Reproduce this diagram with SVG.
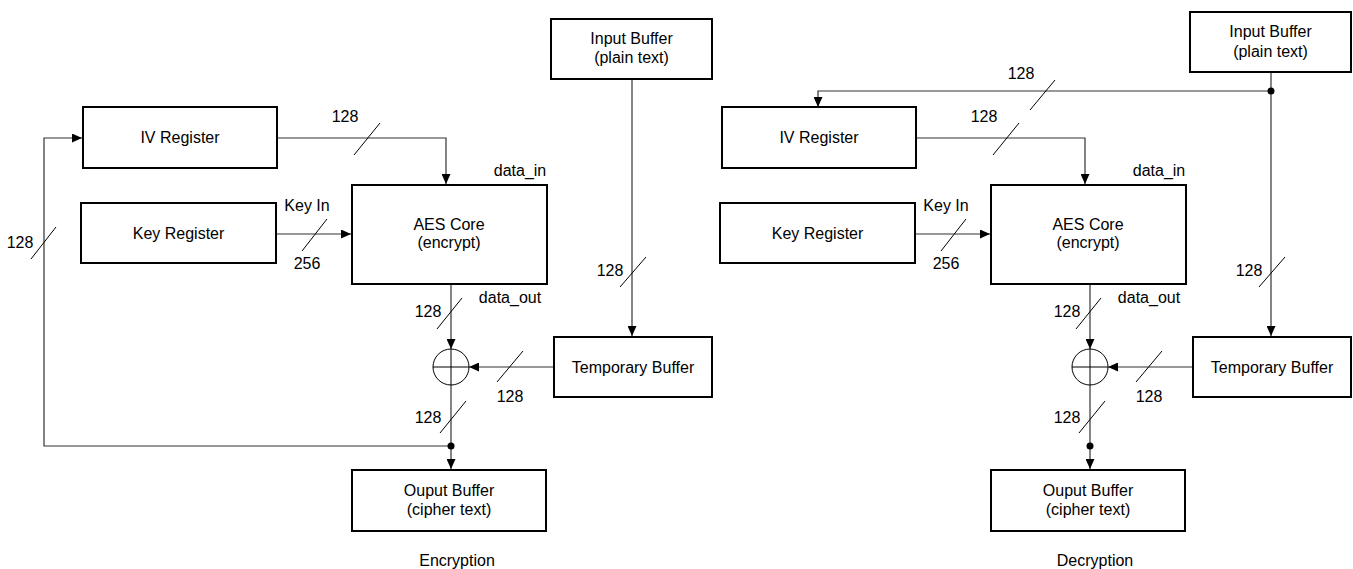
<svg xmlns="http://www.w3.org/2000/svg" width="1353" height="569" viewBox="0 0 1353 569">
<style>
text{font-family:"Liberation Sans",Arial,sans-serif;font-size:16px;fill:#000;text-anchor:middle}
.box{fill:#fff;stroke:#000;stroke-width:2}
.ln{fill:none;stroke:#333;stroke-width:1.2}
.sl{fill:none;stroke:#000;stroke-width:1}
.xor{fill:none;stroke:#000;stroke-width:1}
.dot{fill:#000}
</style>
<defs>
<marker id="arr" viewBox="0 0 10 9" refX="10" refY="4.5" markerWidth="10" markerHeight="9" orient="auto" markerUnits="userSpaceOnUse"><path d="M0,0 L10,4.5 L0,9 z" fill="#000"/></marker>
</defs>
<g id="connectors">
<path class="ln" d="M278,138 H446 V184" marker-end="url(#arr)"/>
<path class="ln" d="M277,234 H351" marker-end="url(#arr)"/>
<path class="ln" d="M451,285 V349" marker-end="url(#arr)"/>
<path class="ln" d="M553,367 H469" marker-end="url(#arr)"/>
<path class="ln" d="M451,385 V469" marker-end="url(#arr)"/>
<path class="ln" d="M451,446 H44 V138 H82" marker-end="url(#arr)"/>
<path class="ln" d="M632,80 V336" marker-end="url(#arr)"/>
<circle class="dot" cx="451" cy="446" r="3.5"/>
<path class="ln" d="M1271,73 V336" marker-end="url(#arr)"/>
<path class="ln" d="M1271,91 H818 V107" marker-end="url(#arr)"/>
<circle class="dot" cx="1271" cy="91" r="3.5"/>
<path class="ln" d="M917,138 H1085 V184" marker-end="url(#arr)"/>
<path class="ln" d="M916,234 H990" marker-end="url(#arr)"/>
<path class="ln" d="M1090,285 V349" marker-end="url(#arr)"/>
<path class="ln" d="M1192,367 H1108" marker-end="url(#arr)"/>
<path class="ln" d="M1090,385 V469" marker-end="url(#arr)"/>
<circle class="dot" cx="1090" cy="446" r="3.5"/>
<path class="sl" d="M354,155 L380,123 M302,251 L327,219 M31,259 L56,227 M437,329 L462,298 M440,433 L466,401 M497,382 L523,351 M620,287 L646,257"/>
<path class="sl" d="M1030,110 L1055,80 M993,155 L1019,123 M941,251 L966,219 M1076,329 L1101,298 M1079,433 L1105,401 M1136,382 L1162,351 M1259,287 L1285,257"/>
<text x="345" y="122">128</text>
<text x="307" y="211">Key In</text>
<text x="307" y="269">256</text>
<text x="20" y="248">128</text>
<text x="428" y="317">128</text>
<text x="428" y="423">128</text>
<text x="510" y="402">128</text>
<text x="610" y="276">128</text>
<text x="510" y="303">data_out</text>
<text x="520" y="176">data_in</text>
<text x="1021" y="79">128</text>
<text x="984" y="122">128</text>
<text x="946" y="211">Key In</text>
<text x="946" y="269">256</text>
<text x="1067" y="317">128</text>
<text x="1067" y="423">128</text>
<text x="1149" y="402">128</text>
<text x="1249" y="276">128</text>
<text x="1149" y="303">data_out</text>
<text x="1159" y="176">data_in</text>
</g>
<g id="xorL"><circle class="xor" cx="451" cy="367" r="18"/><path class="xor" d="M433,367 H469 M451,349 V385"/></g>
<g id="xorR"><circle class="xor" cx="1090" cy="367" r="18"/><path class="xor" d="M1072,367 H1108 M1090,349 V385"/></g>
<g id="inbufL"><rect class="box" x="551" y="19" width="161" height="60"/><text x="631.5" y="44">Input Buffer</text><text x="631.5" y="63">(plain text)</text></g>
<g id="ivL"><rect class="box" x="83" y="107" width="194" height="61"/><text x="180" y="143">IV Register</text></g>
<g id="keyL"><rect class="box" x="81" y="203" width="195" height="60"/><text x="178.5" y="239">Key Register</text></g>
<g id="aesL"><rect class="box" x="352" y="185" width="195" height="99"/><text x="449" y="230">AES Core</text><text x="449" y="248">(encrypt)</text></g>
<g id="tmpL"><rect class="box" x="554" y="337" width="158" height="60"/><text x="633" y="373">Temporary Buffer</text></g>
<g id="outL"><rect class="box" x="352" y="470" width="194" height="61"/><text x="449" y="496">Ouput Buffer</text><text x="449" y="515">(cipher text)</text></g>
<text x="457" y="566">Encryption</text>
<g id="inbufR"><rect class="box" x="1190" y="12" width="161" height="60"/><text x="1270.5" y="37">Input Buffer</text><text x="1270.5" y="57">(plain text)</text></g>
<g id="ivR"><rect class="box" x="722" y="107" width="194" height="61"/><text x="819" y="143">IV Register</text></g>
<g id="keyR"><rect class="box" x="720" y="203" width="195" height="60"/><text x="817.5" y="239">Key Register</text></g>
<g id="aesR"><rect class="box" x="991" y="185" width="195" height="99"/><text x="1088" y="230">AES Core</text><text x="1088" y="248">(encrypt)</text></g>
<g id="tmpR"><rect class="box" x="1193" y="337" width="158" height="60"/><text x="1272" y="373">Temporary Buffer</text></g>
<g id="outR"><rect class="box" x="991" y="470" width="194" height="61"/><text x="1088" y="496">Ouput Buffer</text><text x="1088" y="515">(cipher text)</text></g>
<text x="1095" y="566">Decryption</text>
</svg>
